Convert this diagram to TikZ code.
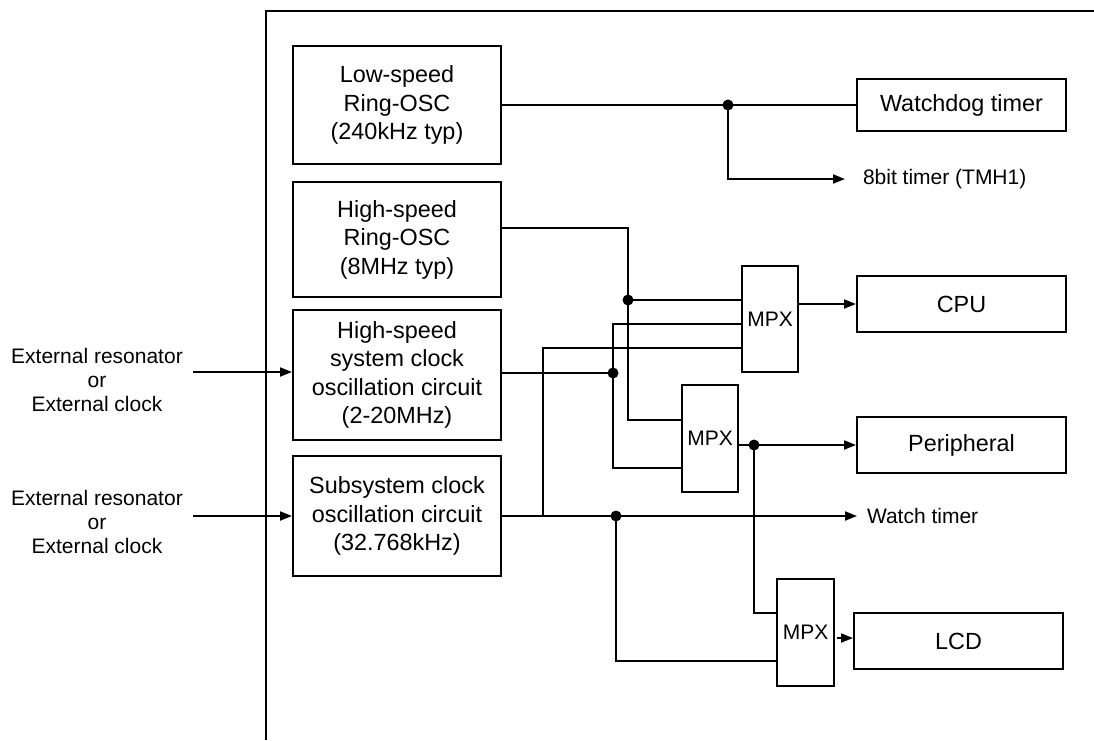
\documentclass[tikz,border=0pt]{standalone}
\usepackage{fontspec}
\setmainfont{Liberation Sans}
\usetikzlibrary{arrows.meta,calc}
\begin{document}
\begin{tikzpicture}[x=1pt,y=-1pt,line width=2pt,
  box/.style={draw,line width=2pt,inner sep=0pt,align=center,font=\fontsize{23.4}{28.5}\selectfont},
  mpx/.style={draw,line width=2pt,inner sep=0pt,minimum width=56pt,minimum height=106pt,font=\fontsize{21}{24}\selectfont},
  lbl/.style={inner sep=0pt,align=center,font=\fontsize{21}{24}\selectfont},
  arr/.style={-{Triangle[length=12pt,width=9pt]}},
  jdot/.style={circle,fill,inner sep=0pt,minimum size=11pt}]
\useasboundingbox (0,0) rectangle (1094,740);
% frame
\coordinate (f1) at (266,740);
\coordinate (f2) at (266,11);
\coordinate (f3) at (1094,11);
\draw (f1) -- (f2) -- (f3);
% source boxes
\node[box,minimum width=208pt,minimum height=118pt] (ls) at (397,105) {Low-speed\\Ring-OSC\\(240kHz typ)};
\node[box,minimum width=208pt,minimum height=115pt] (hr) at (397,239.5) {High-speed\\Ring-OSC\\(8MHz typ)};
\node[box,minimum width=208pt,minimum height=130pt] (hs) at (397,375) {High-speed\\system clock\\oscillation circuit\\(2-20MHz)};
\node[box,minimum width=208pt,minimum height=120pt] (ss) at (397,516) {Subsystem clock\\oscillation circuit\\(32.768kHz)};
% destination boxes
\node[box,minimum width=209pt,minimum height=52pt] (wdt) at (961.5,105) {Watchdog timer};
\node[box,minimum width=209pt,minimum height=56pt] (cpu) at (961.5,304) {CPU};
\node[box,minimum width=209pt,minimum height=56pt] (per) at (961.5,445) {Peripheral};
\node[box,minimum width=209pt,minimum height=56pt] (lcd) at (958.5,641) {LCD};
% multiplexers
\node[mpx] (mpx1) at (770,319) {MPX};
\node[mpx,minimum height=107pt] (mpx2) at (710,438.5) {MPX};
\node[mpx,minimum height=107pt,minimum width=57pt] (mpx3) at (805.5,632.5) {MPX};
% labels
\node[lbl,anchor=west] (t8) at (862,179) {8bit timer (TMH1)};
\node[lbl,anchor=west] (wt) at (866,516) {Watch timer};
\node[lbl] (in1) at (97,380) {External resonator\\or\\External clock};
\node[lbl] (in2) at (97,522) {External resonator\\or\\External clock};
% inputs
\coordinate (e1) at (193,372);
\coordinate (e2) at (193,516);
\draw[arr] (e1) -- (hs.west |- e1);
\draw[arr] (e2) -- (ss.west |- e2);
% low-speed ring osc
\node[jdot] (j1) at (728,105) {};
\draw (ls.east) -- (wdt.west);
\draw[arr] (j1.center) |- ([xshift=-17pt]t8.west);
% high-speed ring osc
\coordinate (c1) at (628,228);
\coordinate (c2) at (628,420);
\node[jdot] (d1) at (628,300) {};
\draw (hr.east |- c1) -- (c1) -- (c2) -- (mpx2.west |- c2);
\draw (d1.center) -- (mpx1.west |- d1);
% high-speed system clock
\node[jdot] (d2) at (613,373) {};
\coordinate (c3) at (613,324);
\coordinate (c4) at (613,468);
\draw (hs.east |- d2) -- (d2.center);
\draw (mpx1.west |- c3) -- (c3) -- (c4) -- (mpx2.west |- c4);
% subsystem clock
\node[jdot] (d3) at (616,516) {};
\draw[arr] (ss.east) -- ([xshift=-9pt]wt.west);
\coordinate (c5) at (543,516);
\coordinate (c6) at (543,348);
\draw (c5) -- (c6) -- (mpx1.west |- c6);
\coordinate (c7) at (616,661);
\draw (d3.center) -- (c7) -- (mpx3.west |- c7);
% mpx outputs
\draw[arr] (mpx1.east |- cpu.west) -- (cpu.west);
\node[jdot] (d4) at (754,445) {};
\draw (mpx2.east |- d4) -- (d4.center);
\draw[arr] (d4.center) -- (per.west |- d4);
\coordinate (c8) at (754,613);
\draw (d4.center) -- (c8) -- (mpx3.west |- c8);
\coordinate (c9) at (0,638);
\draw[arr] ([xshift=2pt]mpx3.east |- c9) -- (lcd.west |- c9);
\end{tikzpicture}
\end{document}
